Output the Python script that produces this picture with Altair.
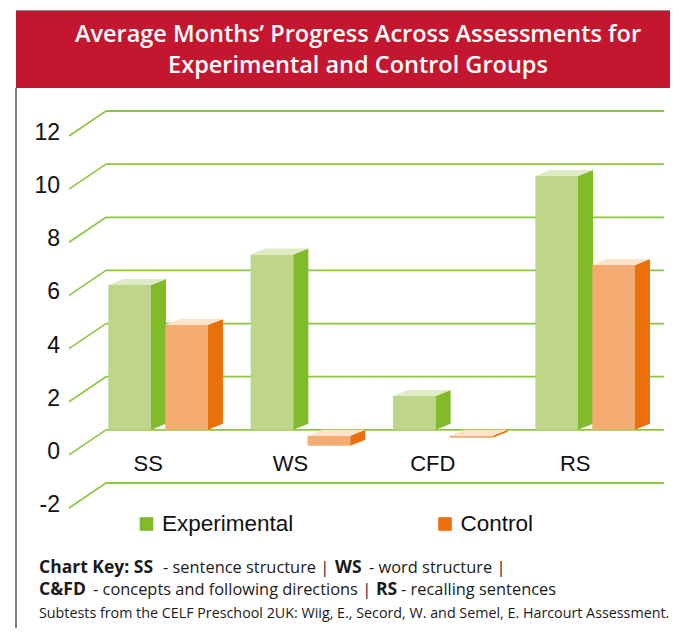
import altair as alt
import pandas as pd

# ---------------- data ----------------
categories = ["SS", "WS", "CFD", "RS"]
experimental = [5.45, 6.6, 1.27, 9.55]
control = [3.95, -0.6, -0.3, 6.2]
groups = ["Experimental", "Control"]
y_ticks = [-2, 0, 2, 4, 6, 8, 10, 12]
title_lines = ["Average Months\u2019 Progress Across Assessments for",
               "Experimental and Control Groups"]
key_line1 = [("Chart Key: SS", "bold"), ("- sentence structure |", "normal"),
             ("WS", "bold"), ("- word structure |", "normal")]
key_line2 = [("C&FD", "bold"), ("- concepts and following directions |", "normal"),
             ("RS", "bold"), ("- recalling sentences", "normal")]
footnote = "Subtests from the CELF Preschool 2UK: Wiig, E., Secord, W. and Semel, E. Harcourt Assessment."

# ---------------- layout / style ----------------
W, H = 558, 372
PAD = {"left": 98, "top": 103, "right": 6, "bottom": 145}
Y_DOM = [-2, 12]
X_DOM = [-0.416, 3.504]
PX_X = W / (X_DOM[1] - X_DOM[0])
PX_Y = H / (Y_DOM[1] - Y_DOM[0])
BAR_W = 0.30
GROUP_LEFT = {"Experimental": -0.40, "Control": 0.0}
DX = 15 / PX_X
DY = 6 / PX_Y
COLORS = {
    "Experimental": {"front": "#BDD689", "side": "#82BA29", "top": "#DEEBC6", "legend": "#82BA29"},
    "Control": {"front": "#F4AC72", "side": "#EB700B", "top": "#FDE3CC", "legend": "#EB700B"},
}
GRID = "#8DC63F"
TEXT_FONT = "Open Sans"
CHART_FONT = "Liberation Sans"

xs = alt.Scale(domain=X_DOM, nice=False, zero=False)
ys = alt.Scale(domain=Y_DOM, nice=False, zero=False)

# ---------------- geometry tables built from the data ----------------
front_rows, side_rows, top_rows = [], [], []
for g, vals in zip(groups, [experimental, control]):
    for i, (c, v) in enumerate(zip(categories, vals)):
        x0 = i + GROUP_LEFT[g]
        x1 = x0 + BAR_W
        ftop = v if v >= 0 else -DY
        fbot = 0 if v >= 0 else v
        key = f"{g}-{c}"
        front_rows.append(dict(group=g, cat=c, value=v, x0=x0, x1=x1, ftop=ftop, fbot=fbot))
        side_rows.append(dict(group=g, key=key, x=x1, lo=fbot, hi=ftop))
        side_rows.append(dict(group=g, key=key, x=x1 + DX, lo=fbot + DY, hi=ftop + DY))
        top_rows.append(dict(group=g, key=key, y=ftop, xl=x0, xr=x1))
        top_rows.append(dict(group=g, key=key, y=ftop + DY, xl=x0 + DX, xr=x1 + DX))
front_df = pd.DataFrame(front_rows)
side_df = pd.DataFrame(side_rows)
top_df = pd.DataFrame(top_rows)
grid_df = pd.DataFrame({"v": y_ticks, "lbl": [str(t) for t in y_ticks]})
cat_df = pd.DataFrame({"cat": categories, "idx": list(range(len(categories)))})
dummy = pd.DataFrame({"a": [0]})

layers = []

# banner
layers.append(alt.Chart(dummy).mark_rect(color="#C4172F").encode(
    x=alt.value(-90), x2=alt.value(W + 20), y=alt.value(-100), y2=alt.value(-23)))
layers.append(alt.Chart(dummy).mark_rule(color="#8a8a8a", strokeWidth=1).encode(
    x=alt.value(-90), x2=alt.value(W + 20), y=alt.value(-100.5)))
layers.append(alt.Chart(dummy).mark_rule(color="#222222", strokeWidth=1.2).encode(
    x=alt.value(-90), y=alt.value(-23), y2=alt.value(H + PAD["bottom"])))
for k, line in enumerate(title_lines):
    layers.append(alt.Chart(dummy).mark_text(
        text=line, color="white", font=TEXT_FONT, fontWeight=600, fontSize=23.5,
        align="center", baseline="middle").encode(x=alt.value(252), y=alt.value(-76 + 31 * k)))

# gridlines (back wall + side diagonals)
layers.append(alt.Chart(grid_df).mark_rule(color=GRID, strokeWidth=1.8).encode(
    y=alt.Y("v:Q", scale=ys, axis=None), x=alt.value(0), x2=alt.value(W)))
layers.append(alt.Chart(grid_df).transform_calculate(
    lo=f"datum.v - {25 / PX_Y}").mark_rule(color=GRID, strokeWidth=1.6).encode(
    y=alt.Y("lo:Q", scale=ys, axis=None), y2="v:Q", x=alt.value(-37), x2=alt.value(0)))
layers.append(alt.Chart(grid_df).mark_text(
    font=CHART_FONT, fontSize=23, align="right", baseline="middle", dy=22, color="#111111").encode(
    y=alt.Y("v:Q", scale=ys, axis=None), x=alt.value(-46), text="lbl:N"))

# bars: front, side, top faces
for g in groups:
    col = COLORS[g]
    flt = alt.datum.group == g
    layers.append(alt.Chart(front_df).transform_filter(flt).mark_rect(color=col["front"]).encode(
        x=alt.X("x0:Q", scale=xs, axis=None), x2="x1:Q",
        y=alt.Y("ftop:Q", scale=ys, axis=None), y2="fbot:Q"))
    layers.append(alt.Chart(side_df).transform_filter(flt).mark_area(
        color=col["side"], orient="vertical").encode(
        x=alt.X("x:Q", scale=xs, axis=None),
        y=alt.Y("hi:Q", scale=ys, axis=None, stack=None), y2="lo:Q", detail="key:N"))
    layers.append(alt.Chart(top_df).transform_filter(flt).mark_area(
        color=col["top"], orient="horizontal").encode(
        y=alt.Y("y:Q", scale=ys, axis=None),
        x=alt.X("xl:Q", scale=xs, axis=None, stack=None), x2="xr:Q", detail="key:N"))

# category labels
layers.append(alt.Chart(cat_df).transform_calculate(pos="datum.idx - 0.12").mark_text(
    font=CHART_FONT, fontSize=22, align="center", baseline="middle", color="#111111").encode(
    x=alt.X("pos:Q", scale=xs, axis=None), y=alt.value(353), text="cat:N"))

# legend
for g, sx in zip(groups, [40.5, 339]):
    layers.append(alt.Chart(dummy).mark_square(size=185, color=COLORS[g]["legend"], opacity=1).encode(
        x=alt.value(sx), y=alt.value(413)))
    layers.append(alt.Chart(dummy).mark_text(
        text=g, font=CHART_FONT, fontSize=22.5, align="left", baseline="middle", color="#111111").encode(
        x=alt.value(sx + 15.5), y=alt.value(413)))

# chart key
seg_x1 = [-67, 57, 229, 263]
seg_x2 = [-67, -13, 270, 295]
for segs, xs_, yb in [(key_line1, seg_x1, 462), (key_line2, seg_x2, 483.7)]:
    for (txt, wt), sx in zip(segs, xs_):
        layers.append(alt.Chart(dummy).mark_text(
            text=txt, font=TEXT_FONT, fontSize=17.5 if wt == "bold" else 16.4, fontWeight=wt,
            align="left", baseline="alphabetic", color="#1a1a1a").encode(
            x=alt.value(sx), y=alt.value(yb)))
layers.append(alt.Chart(dummy).mark_text(
    text=footnote, font=TEXT_FONT, fontSize=14.3, align="left", baseline="alphabetic",
    color="#1a1a1a").encode(x=alt.value(-67), y=alt.value(506.5)))

chart = alt.layer(*layers).properties(
    width=W, height=H, padding=PAD,
    autosize=alt.AutoSizeParams(type="none"),
    background="white",
).configure_view(stroke=None)

chart.save("out.html", embed_options={"renderer": "svg", "actions": False})
